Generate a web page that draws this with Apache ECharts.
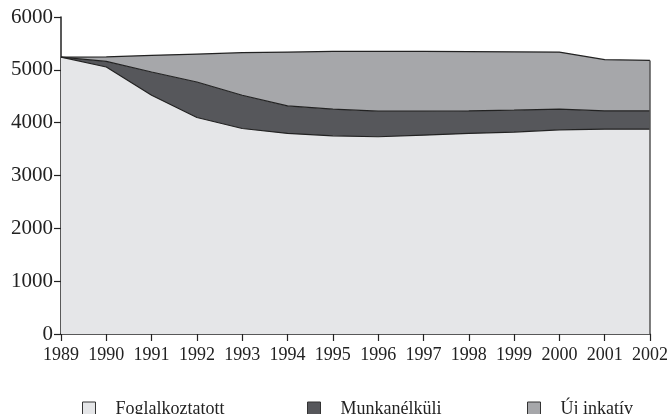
<!DOCTYPE html>
<html>
<head>
    <meta charset="utf-8">
    <script src="https://cdn.jsdelivr.net/npm/echarts@6/dist/echarts.min.js"></script>
</head>
<body style="margin:0">
    <div id="main" style="width:671px;height:414px;"></div>
    <script type="text/javascript">
        var years = ['1989', '1990', '1991', '1992', '1993', '1994', '1995', '1996', '1997', '1998', '1999', '2000', '2001', '2002'];
        var foglalkoztatott = [5242, 5053, 4519, 4098, 3890, 3796, 3751, 3733, 3764, 3796, 3821, 3865, 3877, 3877];
        var munkanelkuli = [0, 107, 440, 672, 629, 521, 504, 484, 453, 427, 415, 390, 346, 346];
        var ujInaktiv = [0, 85, 315, 529, 805, 1019, 1094, 1132, 1132, 1122, 1104, 1081, 969, 956];
        var names = ['Foglalkoztatott', 'Munkanélküli', 'Új inkatív'];
        var fills = ['#e5e6e8', '#56575b', '#a6a7aa'];

        var font = "'Liberation Serif', 'DejaVu Serif', serif";
        var myChart = echarts.init(document.getElementById('main'));

        var last = years.length - 1;
        var topLast = foglalkoztatott[last] + munkanelkuli[last] + ujInaktiv[last];

        function makeSeries(i, data) {
            var s = {
                name: names[i],
                type: 'line',
                stack: 'total',
                data: data,
                symbol: 'none',
                smooth: false,
                itemStyle: { color: fills[i] },
                lineStyle: { color: '#222', width: 1.2 },
                areaStyle: { color: fills[i], opacity: 1 },
                emphasis: { disabled: true },
                z: 2
            };
            return s;
        }

        var s3 = makeSeries(2, ujInaktiv);
        // right edge of the stacked area
        s3.markLine = {
            silent: true,
            symbol: 'none',
            label: { show: false },
            lineStyle: { color: '#555', width: 1.5, type: 'solid' },
            data: [[{ coord: [years[last], 0] }, { coord: [years[last], topLast] }]]
        };

        function legendAt(i, left) {
            return {
                data: [names[i]],
                left: left,
                top: 400,
                padding: 0,
                icon: 'rect',
                itemWidth: 13,
                itemHeight: 14,
                itemStyle: { borderColor: '#333', borderWidth: 1 },
                textStyle: { fontFamily: font, fontSize: 18, color: '#222', padding: [0, 0, 0, 15] }
            };
        }

        var option = {
            backgroundColor: '#fff',
            animation: false,
            legend: [legendAt(0, 82), legendAt(1, 307), legendAt(2, 527)],
            grid: { left: 61, right: 20, top: 17, bottom: 80 },
            xAxis: {
                type: 'category',
                data: years,
                boundaryGap: false,
                axisLine: { lineStyle: { color: '#222', width: 1.5 } },
                axisTick: { show: true, length: 7, alignWithLabel: true, lineStyle: { color: '#222', width: 1.2 } },
                axisLabel: { color: '#222', fontFamily: font, fontSize: 18, margin: 12, interval: 0 },
                splitLine: { show: false }
            },
            yAxis: {
                type: 'value',
                min: 0,
                max: 6000,
                interval: 1000,
                axisLine: { show: true, lineStyle: { color: '#222', width: 1.5 } },
                axisTick: { show: true, length: 7, lineStyle: { color: '#222', width: 1.2 } },
                axisLabel: {
                    color: '#222', fontFamily: font, fontSize: 21, margin: 8,
                    formatter: function (v) { return String(v); }
                },
                splitLine: { show: false }
            },
            series: [
                makeSeries(0, foglalkoztatott),
                makeSeries(1, munkanelkuli),
                s3
            ]
        };

        myChart.setOption(option);
    </script>
</body>
</html>
